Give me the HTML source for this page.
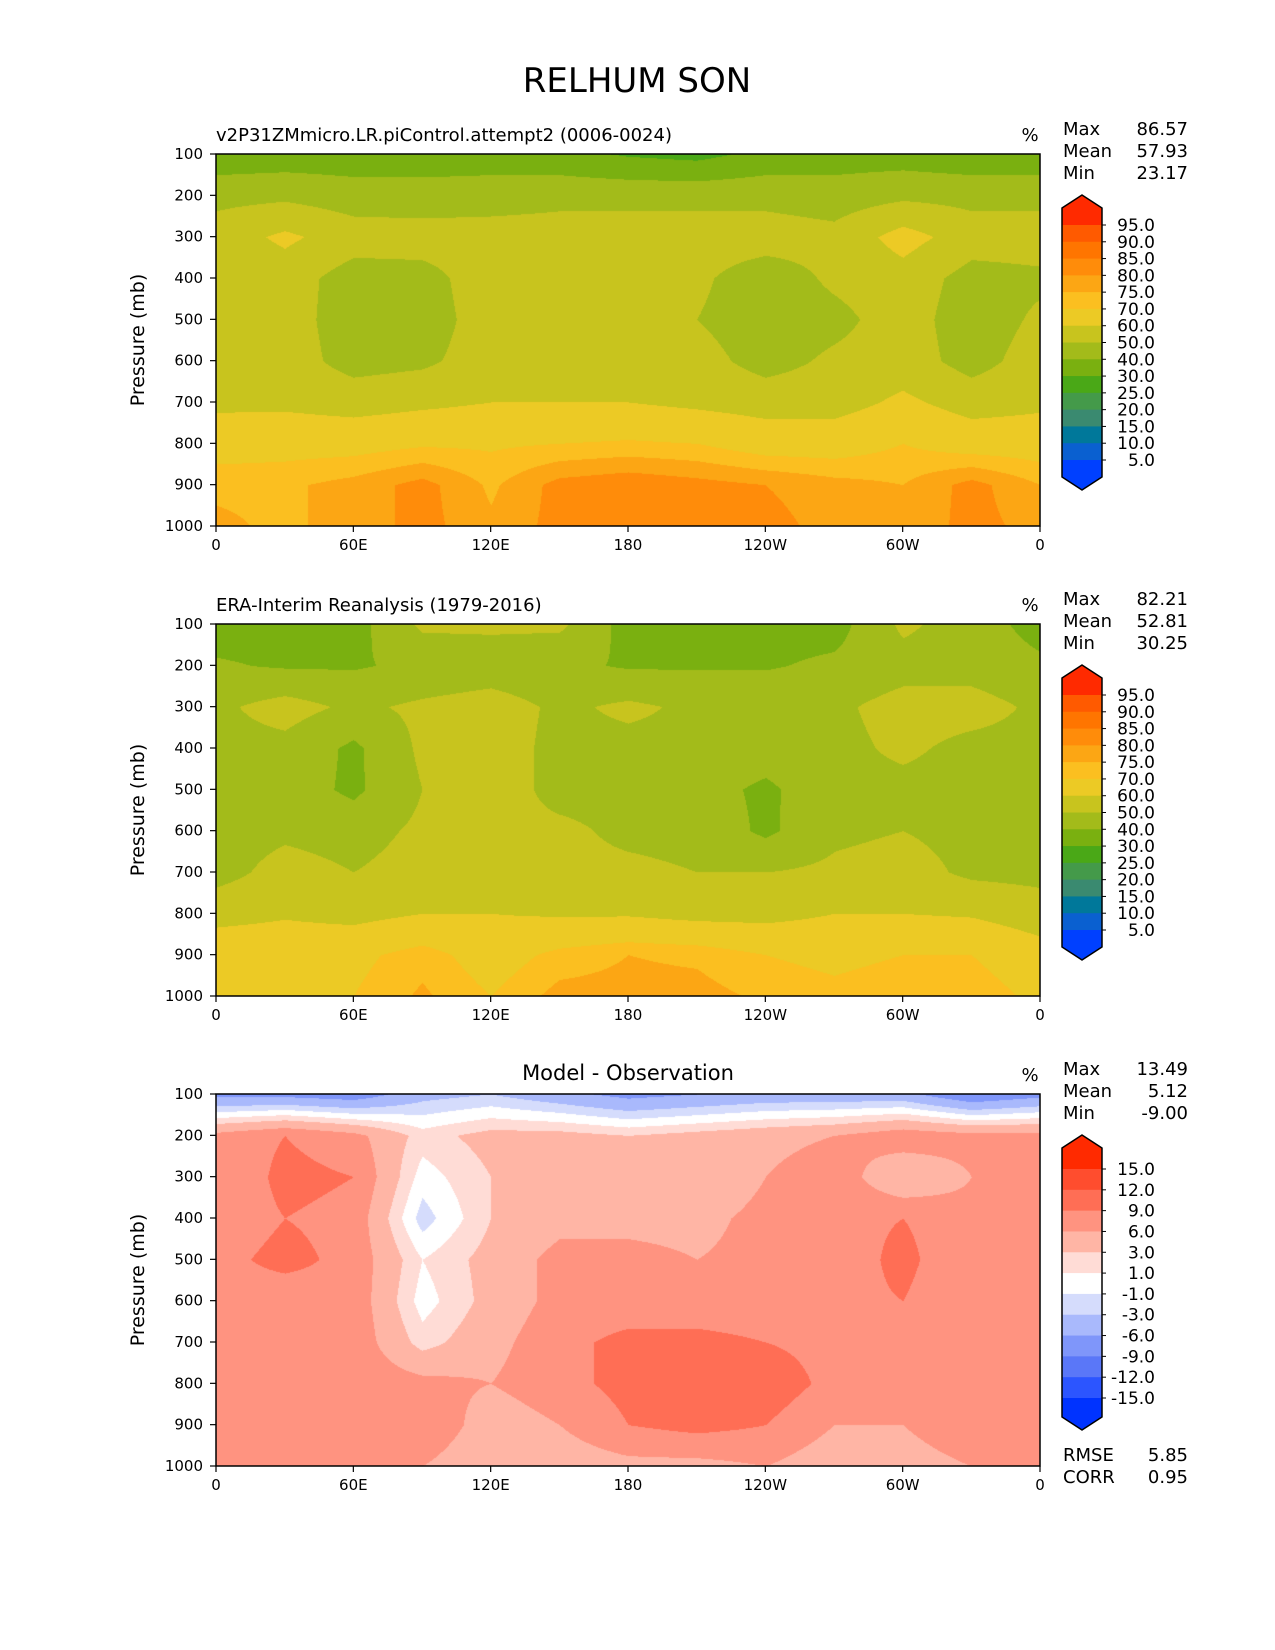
<!DOCTYPE html>
<html><head><meta charset="utf-8">
<style>
html,body{margin:0;padding:0;background:#fff;}
body{width:1275px;height:1650px;position:relative;overflow:hidden;font-family:"DejaVu Sans","Liberation Sans",sans-serif;}
canvas{position:absolute;}
svg{position:absolute;left:0;top:0;}
</style></head>
<body>
<svg id="svg" width="1275" height="1650"></svg>
<script>
// ---- data (rows: 100..1000 mb; cols: lon 0,30,...,360) ----
const pressureLevels = [100,200,300,400,500,600,700,800,900,1000];
const lonTicks = ["0","60E","120E","180","120W","60W","0"];
const presTicks = ["100","200","300","400","500","600","700","800","900","1000"];
const modelValues = [
[33,34,34,35,35,33,29,27,33,35,35,33,33],
[47,48,45,44,45,47,47,47,47,45,48,47,47],
[55,62,55,55,55,55,55,55,55,53,64,55,55],
[50,55,45,46,56,56,55,52,44,52,56,46,48],
[52,55,44,45,55,55,55,50,44,47,55,44,52],
[55,55,46,48,55,55,55,54,46,52,55,46,55],
[58,58,56,58,60,60,60,58,56,56,62,56,58],
[66,67,67,69,69,70,71,70,66,66,70,66,66],
[74,74,77,82,74,82,84,82,80,77,75,82,75],
[76,74,77,82,76,82,82,82,82,78,76,82,78]];
const obsValues = [
[36,36,36,52,52,52,36,36,36,36,52,45,36],
[41,39,39,42,44,42,39,39,39,42,46,46,42],
[48,54,48,52,55,48,52,48,48,48,54,54,48],
[47,47,38,52,55,47,47,47,45,47,52,47,47],
[45,45,38,50,55,47,47,44,38,47,47,46,42],
[45,48,46,52,52,52,48,47,38,48,50,47,47],
[46,54,50,54,54,52,52,50,50,52,54,48,47],
[57,59,57,60,60,59,59,57,57,60,60,59,55],
[66,66,68,73,66,72,75,74,70,68,70,70,64],
[68,68,70,76,70,77,77,77,74,72,74,74,68]];
const diffValues = [
[-7,-7,-8,-4,-3,-5,-7,-6,-5,-5,-5,-9,-7],
[7,9,7,2,4,4,3,4,5,6,8,7,7],
[6,10,9,0,3,3,3,3,6,8,3,6,7],
[7,9,8,-2,3,5,5,5,7,8,9,7,7],
[8,10,8,1,4,7,7,6,7,7,10,6,8],
[8,7,8,0,4,7,7,7,7,8,9,6,8],
[8,6,8,2,5,8,10,10,9,8,7,8,8],
[8,7,8,7,6,8,10,11,11,8,8,9,8],
[7,7,7,9,4,6,9,10,9,6,6,9,7],
[6,6,6,6,3,4,5,5,6,4,4,6,7]];
const absLevels = [5,10,15,20,25,30,40,50,60,70,75,80,85,90,95];
const absColors = ["#0040ff","#0a60d0","#00789a","#3a8a70","#449a4a","#4aa817","#7ab010","#a3bb1a","#c8c41e","#ecca25","#fbbf20","#fca614","#ff8c0a","#ff7500","#ff5a00","#ff2a00"];
const diffLevels = [-15,-12,-9,-6,-3,-1,1,3,6,9,12,15];
const diffColors = ["#0033ff","#2c55ff","#5a77f8","#7f96fa","#a9b9fc","#d5dcfc","#ffffff","#ffdcd6","#ffb5a5","#ff9380","#ff6e55","#ff4d2e","#ff2a00"];
const panelTitles = ["v2P31ZMmicro.LR.piControl.attempt2 (0006-0024)","ERA-Interim Reanalysis (1979-2016)","Model - Observation"];
const statLabels = ["Max","Mean","Min"];
const statValues = [["86.57","57.93","23.17"],["82.21","52.81","30.25"],["13.49","5.12","-9.00"]];
const absLabels = ["95.0","90.0","85.0","80.0","75.0","70.0","60.0","50.0","40.0","30.0","25.0","20.0","15.0","10.0","5.0"];
const diffLabelsTxt = ["15.0","12.0","9.0","6.0","3.0","1.0","-1.0","-3.0","-6.0","-9.0","-12.0","-15.0"];

// ---- layout ----
const PX0=216, PX1=1040, PH=372, PTOPS=[154,624,1094];
const NS="http://www.w3.org/2000/svg";
const svg=document.getElementById('svg');
function mk(tag,attrs,parent){const e=document.createElementNS(NS,tag);for(const k in attrs)e.setAttribute(k,attrs[k]);(parent||svg).appendChild(e);return e;}
function txt(s,x,y,size,anchor,parent){const t=mk('text',{x:x,y:y,'font-size':size,'text-anchor':anchor||'start','font-family':'DejaVu Sans, Liberation Sans, sans-serif',fill:'#000'},parent);t.textContent=s;return t;}
const xScale = lon => PX0 + lon/360*(PX1-PX0);
const yScale = (p,top) => top + (p-100)/900*PH;

function classify(v,levels){let i=0;while(i<levels.length&&v>=levels[i])i++;return i;}
function hex(c){return [parseInt(c.substr(1,2),16),parseInt(c.substr(3,2),16),parseInt(c.substr(5,2),16)];}
function sample(grid,lon,p){
  const fx=lon/30, fy=(p-100)/100;
  const i0=Math.min(Math.floor(fx),11), j0=Math.min(Math.floor(fy),8);
  const tx=fx-i0, ty=fy-j0;
  const a=grid[j0][i0],b=grid[j0][i0+1],c=grid[j0+1][i0],d=grid[j0+1][i0+1];
  return (a*(1-tx)+b*tx)*(1-ty)+(c*(1-tx)+d*tx)*ty;
}
function drawField(grid,levels,colors,top,name){
  const cv=document.createElement('canvas');
  const W=PX1-PX0,H=PH;
  cv.width=W;cv.height=H;cv.style.left=PX0+'px';cv.style.top=top+'px';
  
  
  document.body.insertBefore(cv,svg);
  const ctx=cv.getContext('2d');const img=ctx.createImageData(W,H);
  const rgb=colors.map(hex);
  for(let y=0;y<H;y++){const p=100+y/H*900;
    for(let x=0;x<W;x++){const lon=x/W*360;
      const c=rgb[classify(sample(grid,lon,p),levels)];
      const k=(y*W+x)*4;img.data[k]=c[0];img.data[k+1]=c[1];img.data[k+2]=c[2];img.data[k+3]=255;}}
  ctx.putImageData(img,0,0);
}
const grids=[modelValues,obsValues,diffValues];
svg.style.zIndex=2;
txt("RELHUM SON",637,92,34,'middle');
grids.forEach((g,n)=>{
  const top=PTOPS[n];
  const lv=n<2?absLevels:diffLevels, cl=n<2?absColors:diffColors;
  drawField(g,lv,cl,top,'contour-fill-'+(n+1));
  const gp=mk('g',{});
  
  
  mk('rect',{x:PX0,y:top,width:PX1-PX0,height:PH,fill:'none',stroke:'#000','stroke-width':1.5},gp);
  if(n<2){txt(panelTitles[n],216,top-13,18,'start',gp);}
  else{txt(panelTitles[n],628,top-14,21,'middle',gp);}
  txt("%",1030,top-13,18,'middle',gp);
  presTicks.forEach((t,i)=>{const y=yScale(pressureLevels[i],top);
    mk('line',{x1:PX0-6,x2:PX0,y1:y,y2:y,stroke:'#000','stroke-width':1.2},gp);
    const e=txt(t,203,y+5,15,'end',gp);});
  lonTicks.forEach((t,i)=>{const x=xScale(i*60);
    mk('line',{x1:x,x2:x,y1:top+PH,y2:top+PH+6,stroke:'#000','stroke-width':1.2},gp);
    const e=txt(t,x,top+PH+24,15,'middle',gp);});
  const yl=txt("Pressure (mb)",0,0,19,'middle',gp);
  yl.setAttribute('transform','translate(144,'+(top+PH/2)+') rotate(-90)');
  
  statLabels.forEach((s,i)=>{
    txt(s,1063,top-19+i*22,18,'start',gp);
    txt(statValues[n][i],1188,top-19+i*22,18,'end',gp);});
  const cb=mk('g',{},gp);
  
  
  const X0=1062,X1=1102,tip=top+41,bot=top+336,first=n<2?top+71:top+75,last=n<2?top+306:top+304;
  const nI=lv.length-1, step=(last-first)/nI;
  mk('polygon',{points:`${X0},${first} ${X0},${tip+13} ${(X0+X1)/2},${tip} ${X1},${tip+13} ${X1},${first}`,fill:cl[cl.length-1]},cb);
  for(let k=0;k<nI;k++){const ci=cl.length-2-k;
    mk('rect',{x:X0,y:first+k*step,width:X1-X0,height:step+0.5,fill:cl[ci]},cb);}
  mk('polygon',{points:`${X0},${last} ${X0},${bot-13} ${(X0+X1)/2},${bot} ${X1},${bot-13} ${X1},${last}`,fill:cl[0]},cb);
  mk('polygon',{points:`${X0},${tip+13} ${(X0+X1)/2},${tip} ${X1},${tip+13} ${X1},${bot-13} ${(X0+X1)/2},${bot} ${X0},${bot-13}`,fill:'none',stroke:'#000','stroke-width':1.5},cb);
  const labs=n<2?absLabels:diffLabelsTxt;
  labs.forEach((s,k)=>{const y=first+k*step;
    mk('line',{x1:X1,x2:X1+4,y1:y,y2:y,stroke:'#000'},cb);
    txt(s,1155,y+6,17,'end',cb);});
});
txt("RMSE",1063,1461,18,'start');
txt("5.85",1188,1461,18,'end');
txt("CORR",1063,1483,18,'start');
txt("0.95",1188,1483,18,'end');
</script>
</body></html>
